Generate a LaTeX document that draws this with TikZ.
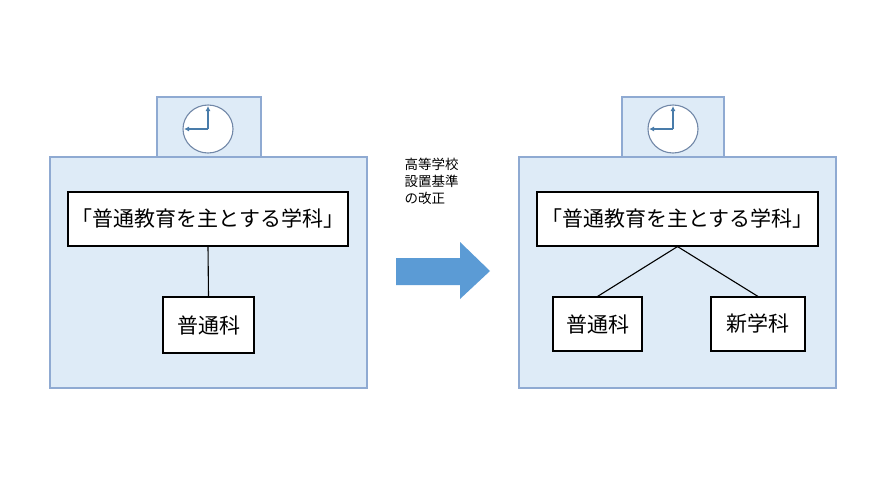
\documentclass[tikz,border=0pt]{standalone}
\usepackage{fontspec}
\newfontfamily\cjk{Noto Sans CJK JP}
\usetikzlibrary{positioning,arrows.meta}
\definecolor{paleblue}{RGB}{222,235,247}
\definecolor{edgeblue}{RGB}{143,170,210}
\definecolor{arrowblue}{RGB}{91,155,213}
\tikzset{
  every path/.style={line width=1.1pt},
  panel/.style={draw=edgeblue, fill=paleblue},
  titlebox/.style={draw, fill=white, inner sep=0pt, font=\cjk\fontsize{21}{24}\selectfont},
  kabox/.style={draw, fill=white, inner sep=0pt, font=\cjk\fontsize{21}{24}\selectfont},
  hand/.style={arrowblue!80!black, -{Latex[length=5pt,width=5pt]}}
}
\begin{document}
\begin{tikzpicture}[x=1pt, y=-1pt]
  \useasboundingbox (0,0) rectangle (890,501);

  % Left panel
  \draw[panel] (157,97) rectangle (261,157);
  \draw[panel] (50,157) rectangle (367,388);
  \draw[edgeblue!80!black, fill=white] (208,129) ellipse [x radius=25, y radius=24];
  \coordinate (lc) at (208,129);
  \draw[hand] (lc) -- (208,106);
  \draw[hand] (lc) -- (184,129);
  \node[titlebox, minimum width=280, minimum height=54] (ltitle) at (208,219) {「普通教育を主とする学科」};
  \node[kabox, minimum width=91, minimum height=56] (lfutsu) at (208.5,325) {普通科};
  \draw (ltitle.south) -- (lfutsu.north);

  % Arrow
  \fill[arrowblue] (396,258) -- (460,258) -- (460,242) -- (490,271) -- (460,299) -- (460,285) -- (396,285) -- cycle;
  \node[align=left, anchor=north west, inner sep=0pt, font=\cjk\fontsize{13.5}{17}\selectfont] (kaisei) at (404,158) {高等学校\\設置基準\\の改正};

  % Right panel
  \draw[panel] (622,97) rectangle (724,157);
  \draw[panel] (519,157) rectangle (836,388);
  \draw[edgeblue!80!black, fill=white] (673,129) ellipse [x radius=25, y radius=24];
  \coordinate (rc) at (673,129);
  \draw[hand] (rc) -- (673,106);
  \draw[hand] (rc) -- (649,129);
  \node[titlebox, minimum width=281, minimum height=54] (rtitle) at (677.5,219) {「普通教育を主とする学科」};
  \node[kabox, minimum width=89, minimum height=54] (rfutsu) at (597.5,324) {普通科};
  \node[kabox, minimum width=94, minimum height=54] (shin) at (758,324) {新学科};
  \draw (rtitle.south) -- (rfutsu.north);
  \draw (rtitle.south) -- (shin.north);
\end{tikzpicture}
\end{document}
